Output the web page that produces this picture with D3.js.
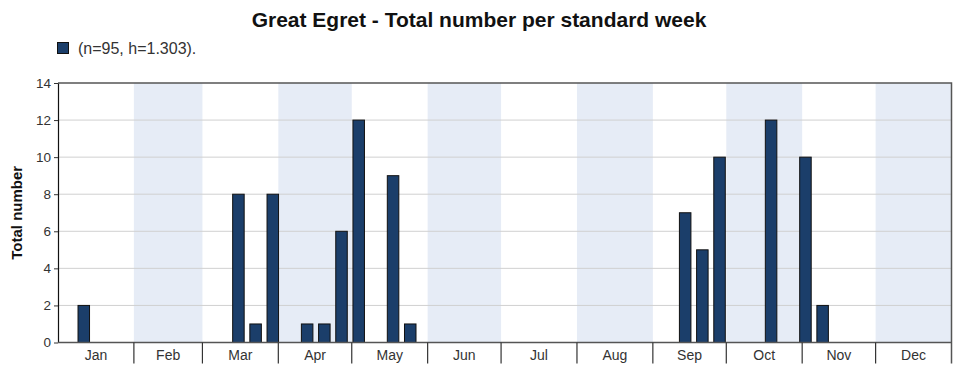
<!DOCTYPE html>
<html>
<head>
<meta charset="utf-8">
<script src="https://cdn.jsdelivr.net/npm/d3@7"></script>
<style>
  body { margin: 0; background: #fff; }
  svg { font-family: "Liberation Sans", Arial, sans-serif; }
</style>
</head>
<body>
<div id="chart"></div>
<script>
// standard weeks (1..52) and counts
var weeks = [2, 11, 12, 13, 15, 16, 17, 18, 20, 21, 37, 38, 39, 42, 44, 45];
var counts = [2, 8, 1, 8, 1, 1, 6, 12, 9, 1, 7, 5, 10, 12, 10, 2];
var months = ["Jan", "Feb", "Mar", "Apr", "May", "Jun", "Jul", "Aug", "Sep", "Oct", "Nov", "Dec"];
var monthDays = [31, 28, 31, 30, 31, 30, 31, 31, 30, 31, 30, 31];
var yTicks = [0, 2, 4, 6, 8, 10, 12, 14];

var width = 972, height = 375;
var pLeft = 58, pRight = 951.5, pTop = 83, pBottom = 342.5;

var svg = d3.select("#chart").append("svg")
    .attr("width", width)
    .attr("height", height);

// day-of-year scale
var x = d3.scaleLinear().domain([0, 365]).range([pLeft, pRight]);
var y = d3.scaleLinear().domain([0, 14]).range([pBottom, pTop]);

// month boundaries
var starts = [0];
monthDays.forEach(function(d, i) { starts.push(starts[i] + d); });
var monthData = months.map(function(m, i) {
    return { name: m, start: starts[i], end: starts[i + 1], idx: i };
});

svg.selectAll("rect.shade")
    .data(monthData.filter(function(d) { return d.idx % 2 === 1; }))
    .enter().append("rect")
    .attr("class", "shade")
    .attr("x", function(d) { return x(d.start); })
    .attr("y", pTop)
    .attr("width", function(d) { return x(d.end) - x(d.start); })
    .attr("height", pBottom - pTop)
    .attr("fill", "#e6ecf6");

// gridlines
svg.selectAll("line.grid")
    .data(yTicks.slice(1, -1))
    .enter().append("line")
    .attr("x1", pLeft).attr("x2", pRight)
    .attr("y1", function(d) { return y(d); })
    .attr("y2", function(d) { return y(d); })
    .attr("stroke", "#d0d0d0")
    .attr("stroke-width", 1);

// bars, one band per standard week
var band = d3.scaleBand()
    .domain(d3.range(1, 53))
    .range([x(0), x(365)])
    .paddingInner(0.33)
    .paddingOuter(0.165);

svg.selectAll("rect.bar")
    .data(weeks)
    .enter().append("rect")
    .attr("class", "bar")
    .attr("x", function(d) { return band(d); })
    .attr("y", function(d, i) { return y(counts[i]); })
    .attr("width", band.bandwidth())
    .attr("height", function(d, i) { return y(0) - y(counts[i]); })
    .attr("fill", "#1b3e6a")
    .attr("stroke", "#111")
    .attr("stroke-width", 1);

// top and right border
svg.append("path")
    .attr("d", "M" + pLeft + "," + pTop + "H" + pRight + "V" + (pBottom + 21))
    .attr("fill", "none")
    .attr("stroke", "#555")
    .attr("stroke-width", 1.5);

// y axis
var yAxis = svg.append("g")
    .attr("transform", "translate(" + pLeft + ",0)")
    .call(d3.axisLeft(y).tickValues(yTicks).tickSize(4).tickSizeOuter(0));
yAxis.select(".domain").attr("stroke", "#111").attr("stroke-width", 1.2);
yAxis.selectAll(".tick line").attr("stroke", "#333");
yAxis.selectAll("text").attr("font-size", 13.5).attr("fill", "#333")
    .attr("font-family", "Liberation Sans, Arial, sans-serif");

// x axis with month dividers
var xAxisG = svg.append("g");
xAxisG.append("line")
    .attr("x1", pLeft).attr("x2", pRight)
    .attr("y1", pBottom).attr("y2", pBottom)
    .attr("stroke", "#555").attr("stroke-width", 1.5);
xAxisG.selectAll("line.div")
    .data(starts.slice(1, 12))
    .enter().append("line")
    .attr("x1", function(d) { return x(d); })
    .attr("x2", function(d) { return x(d); })
    .attr("y1", pBottom).attr("y2", pBottom + 21)
    .attr("stroke", "#333").attr("stroke-width", 1.2);
xAxisG.selectAll("text")
    .data(monthData)
    .enter().append("text")
    .attr("x", function(d) { return (x(d.start) + x(d.end)) / 2; })
    .attr("y", pBottom + 17)
    .attr("text-anchor", "middle")
    .attr("font-size", 14)
    .attr("fill", "#333")
    .text(function(d) { return d.name; });

// title
svg.append("text")
    .attr("x", 479)
    .attr("y", 27)
    .attr("text-anchor", "middle")
    .attr("font-size", 21)
    .attr("font-weight", "bold")
    .attr("fill", "#111")
    .text("Great Egret - Total number per standard week");

// legend
svg.append("rect")
    .attr("x", 57.5).attr("y", 42.5)
    .attr("width", 11).attr("height", 11)
    .attr("fill", "#1b3e6a")
    .attr("stroke", "#111");
svg.append("text")
    .attr("x", 78)
    .attr("y", 54)
    .attr("font-size", 16)
    .attr("fill", "#333")
    .text("(n=95, h=1.303).");

// y label
svg.append("text")
    .attr("transform", "translate(22," + ((pTop + pBottom) / 2) + ") rotate(-90)")
    .attr("text-anchor", "middle")
    .attr("font-size", 15)
    .attr("font-weight", "bold")
    .attr("fill", "#111")
    .text("Total number");
</script>
</body>
</html>
